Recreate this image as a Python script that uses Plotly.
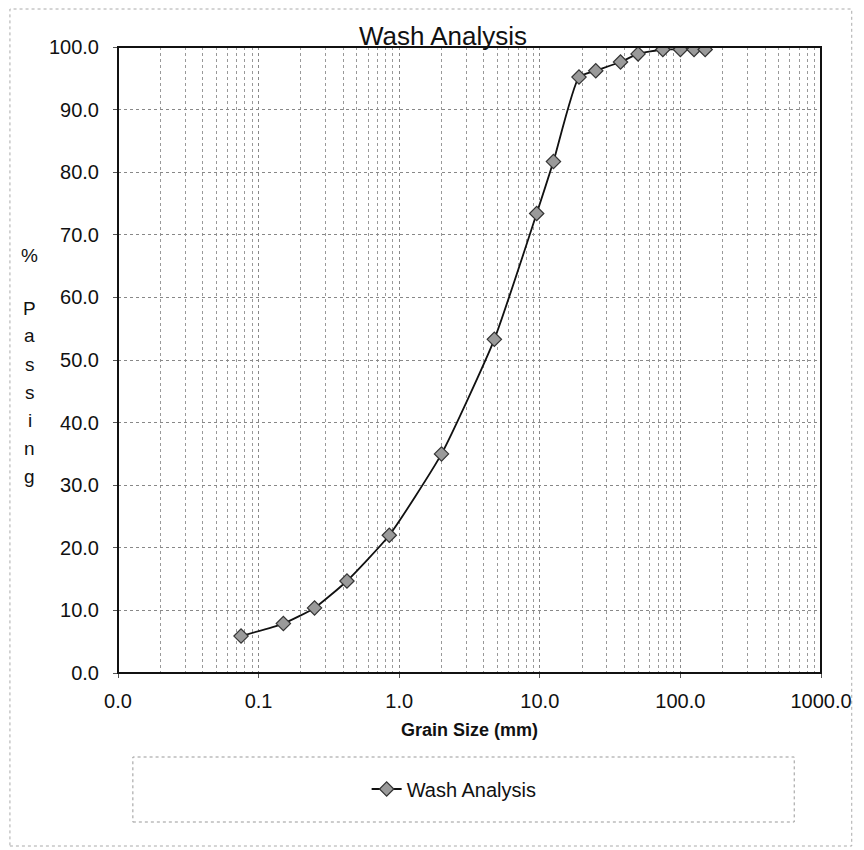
import plotly.graph_objects as go

grain_size_mm = [0.075, 0.15, 0.25, 0.425, 0.85, 2.0, 4.75, 9.5, 12.5, 19.0, 25.0, 37.5, 50.0, 75.0, 100.0, 125.0, 150.0]
percent_passing = [5.9, 7.9, 10.4, 14.7, 22.0, 35.0, 53.3, 73.4, 81.7, 95.2, 96.2, 97.6, 98.9, 99.6, 99.6, 99.6, 99.6]

x_tick_vals = [0.01, 0.1, 1, 10, 100, 1000]
x_tick_text = ["0.0", "0.1", "1.0", "10.0", "100.0", "1000.0"]
y_tick_vals = [0, 10, 20, 30, 40, 50, 60, 70, 80, 90, 100]
y_tick_text = ["%.1f" % v for v in y_tick_vals]
minor_vals = [m * 10 ** e for e in range(-2, 3) for m in range(2, 10)]

y_title_chars = ["%", "P", "a", "s", "s", "i", "n", "g"]
y_title_px = [256, 308, 336, 364, 392, 420, 448, 477]

FONT = "Liberation Sans, Arial, sans-serif"
OFF = 8  # page body margin
W, H = 864 - OFF, 850 - OFF
# plot area in screen pixels
L, R, T, B = 118, 827, 47, 673
pw, ph = R - L, B - T

def px_x(p):
    return (p - L) / pw

def px_y(p):
    return (B - p) / ph

fig = go.Figure()
fig.add_trace(go.Scatter(
    x=grain_size_mm, y=percent_passing, mode="lines+markers",
    name="Wash Analysis",
    line=dict(color="#111111", width=1.8, shape="spline", smoothing=0.5),
    marker=dict(symbol="diamond", size=11, color="#9a9a9a",
                line=dict(color="#333333", width=1.2)),
))

annotations = []
for ch, yp in zip(y_title_chars, y_title_px):
    annotations.append(dict(
        text=ch, x=px_x(29), y=px_y(yp), xref="paper", yref="paper",
        showarrow=False, xanchor="center", yanchor="middle",
        font=dict(family=FONT, size=19, color="#111111"),
    ))

shapes = [
    dict(type="rect", xref="paper", yref="paper",
         x0=px_x(9), x1=px_x(858), y0=px_y(846), y1=px_y(9),
         line=dict(color="#aaaaaa", width=1, dash="dot"), layer="below"),
    dict(type="rect", xref="paper", yref="paper",
         x0=px_x(133), x1=px_x(800), y0=px_y(822), y1=px_y(757),
         line=dict(color="#999999", width=1, dash="dot")),
    dict(type="rect", xref="paper", yref="paper",
         x0=0, x1=1, y0=0, y1=1,
         line=dict(color="#111111", width=2)),
]

fig.update_layout(
    width=W, height=H,
    margin=dict(l=L - OFF, r=(864 - R), t=T - OFF, b=(850 - B)),
    paper_bgcolor="white", plot_bgcolor="white",
    font=dict(family=FONT, size=20, color="#111111"),
    title=dict(text="Wash Analysis", x=(443 - OFF) / W, xanchor="center",
               y=1 - (36 - OFF) / H, yanchor="middle",
               font=dict(family=FONT, size=26, color="#111111")),
    showlegend=True,
    legend=dict(x=px_x(457), y=px_y(789), xanchor="center", yanchor="middle",
                bgcolor="rgba(0,0,0,0)", borderwidth=0,
                font=dict(family=FONT, size=20, color="#111111")),
    xaxis=dict(
        type="log", range=[-2, 3],
        tickmode="array", tickvals=x_tick_vals, ticktext=x_tick_text,
        showgrid=True, gridcolor="#888888", griddash="dot", gridwidth=1,
        ticks="outside", ticklen=4, tickcolor="#555555",
        ticklabelstandoff=6,
        showline=False, zeroline=False,
        tickfont=dict(family=FONT, size=20, color="#111111"),
        minor=dict(tickmode="array", tickvals=minor_vals, showgrid=True,
                   gridcolor="#999999", griddash="dot", gridwidth=1),
        title=dict(text="<b>Grain Size (mm)</b>", standoff=12,
                   font=dict(family=FONT, size=18, color="#111111")),
    ),
    yaxis=dict(
        range=[0, 100], tickmode="array", tickvals=y_tick_vals, ticktext=y_tick_text,
        showgrid=True, gridcolor="#888888", griddash="dot", gridwidth=1,
        ticks="outside", ticklen=4, tickcolor="#555555",
        ticklabelstandoff=10,
        showline=False, zeroline=False,
        tickfont=dict(family=FONT, size=20, color="#111111"),
    ),
    annotations=annotations,
    shapes=shapes,
)

fig.write_html("out.html")
